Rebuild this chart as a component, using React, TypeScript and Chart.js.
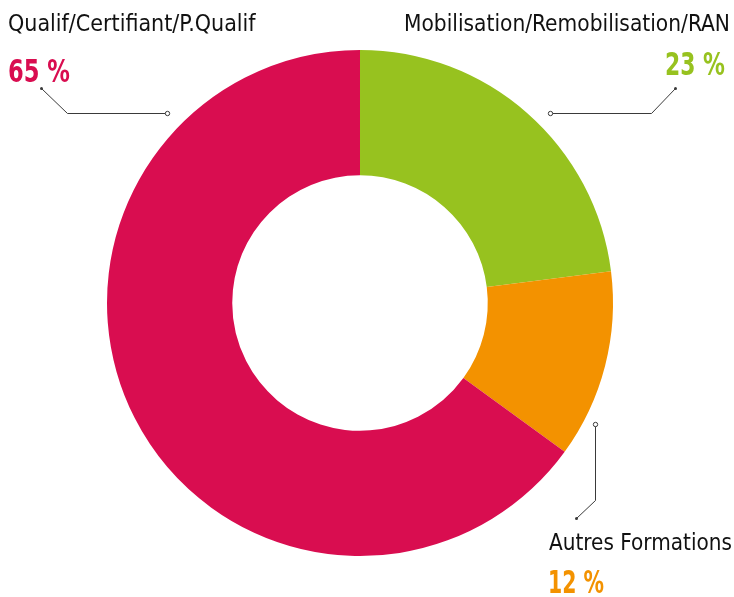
import React, { useEffect, useRef } from "react";
import { Chart, registerables } from "chart.js";

Chart.register(...registerables);

const categories = ["Mobilisation/Remobilisation/RAN", "Autres Formations", "Qualif/Certifiant/P.Qualif"];
const values = [23, 12, 65];
const percentLabels = ["23 %", "12 %", "65 %"];
const colors = ["#97C21F", "#F39200", "#D90D50"];

const FONT = '"Liberation Sans Narrow", "DejaVu Sans Condensed", sans-serif';

const labelPlugin = {
  id: "leaderLabels",
  afterDraw(chart: any) {
    const ctx = chart.ctx;
    ctx.save();
    ctx.strokeStyle = "#3a3a3a";
    ctx.lineWidth = 1;
    const lines = [
      [[41, 88], [67, 113], [167, 113]],
      [[675, 88], [651, 113], [550, 113]],
      [[576, 518], [595, 500], [595, 424]],
    ];
    lines.forEach((pts) => {
      ctx.beginPath();
      ctx.moveTo(pts[0][0] + 0.5, pts[0][1] + 0.5);
      for (let i = 1; i < pts.length; i++) ctx.lineTo(pts[i][0] + 0.5, pts[i][1] + 0.5);
      ctx.stroke();
      ctx.fillStyle = "#3a3a3a";
      ctx.beginPath();
      ctx.arc(pts[0][0] + 0.5, pts[0][1] + 0.5, 1.5, 0, Math.PI * 2);
      ctx.fill();
      const e = pts[pts.length - 1];
      ctx.fillStyle = "#ffffff";
      ctx.beginPath();
      ctx.arc(e[0] + 0.5, e[1] + 0.5, 2.2, 0, Math.PI * 2);
      ctx.fill();
      ctx.stroke();
    });

    const fit = (text: string, x: number, y: number, w: number, align: string) => {
      const m = ctx.measureText(text).width;
      ctx.textAlign = align;
      if (m > w) ctx.fillText(text, x, y, w);
      else ctx.fillText(text, x, y);
    };

    ctx.textBaseline = "alphabetic";
    const labelFont = `400 23px ${FONT}`;
    const pctFont = `700 32px ${FONT}`;

    // Qualif
    ctx.fillStyle = "#111111";
    ctx.font = labelFont;
    fit(categories[2], 8, 31, 248, "left");
    ctx.fillStyle = colors[2];
    ctx.font = pctFont;
    fit(percentLabels[2], 8, 82, 62, "left");

    // Mobilisation
    ctx.fillStyle = "#111111";
    ctx.font = labelFont;
    fit(categories[0], 730, 31, 326, "right");
    ctx.fillStyle = colors[0];
    ctx.font = pctFont;
    fit(percentLabels[0], 725, 75, 60, "right");

    // Autres
    ctx.fillStyle = "#111111";
    ctx.font = labelFont;
    fit(categories[1], 549, 550, 183, "left");
    ctx.fillStyle = colors[1];
    ctx.font = pctFont;
    fit(percentLabels[1], 548, 593, 56, "left");
    ctx.restore();
  },
};

export default function App() {
  const ref = useRef<HTMLCanvasElement>(null);
  useEffect(() => {
    if (!ref.current) return;
    const chart = new Chart(ref.current, {
      type: "doughnut",
      data: {
        labels: categories,
        datasets: [
          {
            data: values,
            backgroundColor: colors,
            borderWidth: 0,
            hoverOffset: 0,
          },
        ],
      },
      options: {
        animation: false,
        responsive: false,
        cutout: "50.5%",
        layout: { padding: { left: 107, right: 121, top: 50, bottom: 41 } },
        plugins: { legend: { display: false }, tooltip: { enabled: false } },
      },
      plugins: [labelPlugin],
    });
    return () => chart.destroy();
  }, []);
  return (
    <div style={{ position: "fixed", left: 0, top: 0, width: 734, height: 597, background: "#fff" }}>
      <canvas ref={ref} width={734} height={597} style={{ display: "block", width: 734, height: 597 }} />
    </div>
  );
}
